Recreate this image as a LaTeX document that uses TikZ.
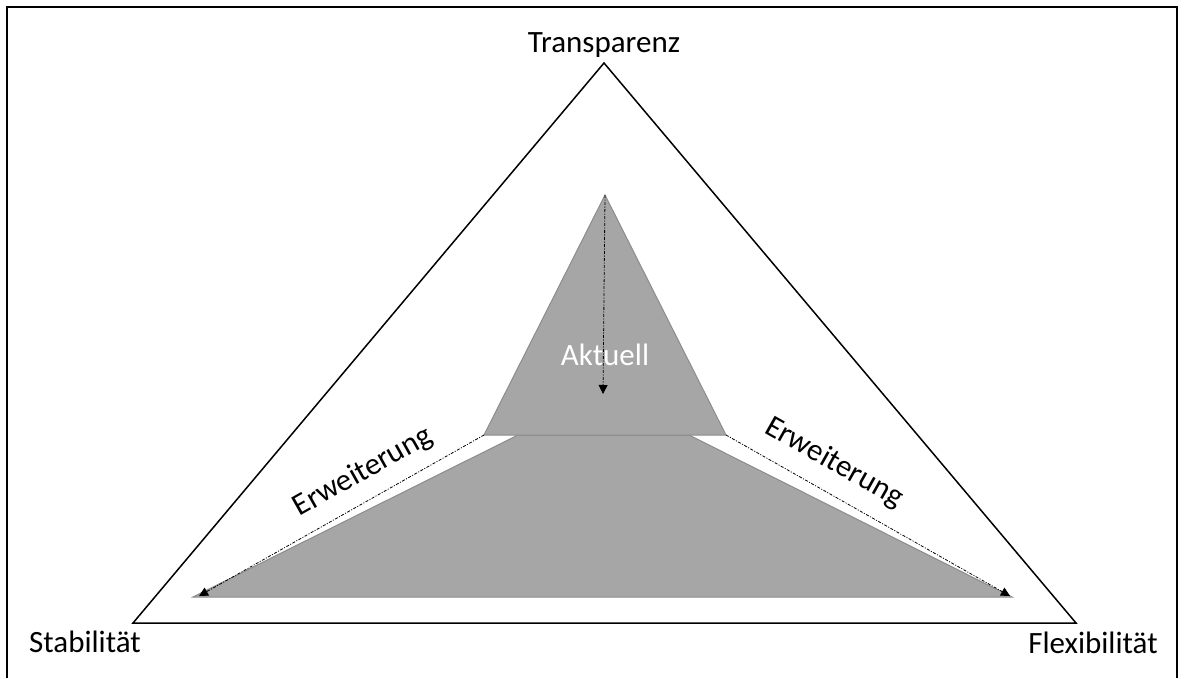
\documentclass[tikz,border=0pt]{standalone}
\usepackage{fontspec}
\setmainfont{Carlito}
\usepackage{xcolor}
\usetikzlibrary{calc, positioning, arrows.meta}

\definecolor{areagrey}{HTML}{A6A6A6}
\definecolor{edgegrey}{HTML}{8C8C8C}

\tikzset{
    area/.style={fill=areagrey, draw=edgegrey, line width=1pt},
    widen/.style={line width=0.8pt, dash pattern=on 3pt off 1.5pt on 1pt off 1.5pt, -{Triangle[length=9pt,width=9pt]}},
    corner/.style={anchor=base}
}

\begin{document}
\begin{tikzpicture}[x=1pt, y=-1pt, every node/.style={font=\fontsize{31}{37}\selectfont, inner sep=0pt}]
    \useasboundingbox (0,0) rectangle (1184,678);
    \draw [line width=2pt] (7,678) -- (7,7) -- (1177,7) -- (1177,678);

    % outer triangle
    \coordinate (top) at (604,63);
    \coordinate (stab) at (133,623);
    \coordinate (flex) at (1076,623);
    \draw [line width=1.5pt, line join=miter] (top) -- (stab) -- (flex) -- cycle;

    % grey areas
    \coordinate (tL) at (484,435);
    \coordinate (tR) at (726,435);
    \coordinate (tTop) at (605,195);
    \draw [area] (518,435) -- (689,435) -- (1012,597) -- (193,597) -- cycle;
    \draw [area] (tTop) -- (tR) -- (tL) -- cycle;

    % arrows
    \coordinate (endL) at (199,596);
    \coordinate (endR) at (1010,596);
    \coordinate (endTop) at (603,394);
    \draw [widen] (tL) -- (endL);
    \draw [widen] (tR) -- (endR);
    \draw [widen] (tTop) -- (endTop);

    % labels
    \node [corner] (transp) at (604,52) {Transparenz};
    \node [corner] (stabl) at (85,652) {Stabilität};
    \node [corner] (flexl) at (1093,653) {Flexibilität};
    \node [corner, text=white] (akt) at (605,365) {Aktuell};
    \node [rotate=29.4] (erwL) at (363,472) {Erweiterung};
    \node [rotate=-29.4] (erwR) at (834,463) {Erweiterung};
\end{tikzpicture}
\end{document}
